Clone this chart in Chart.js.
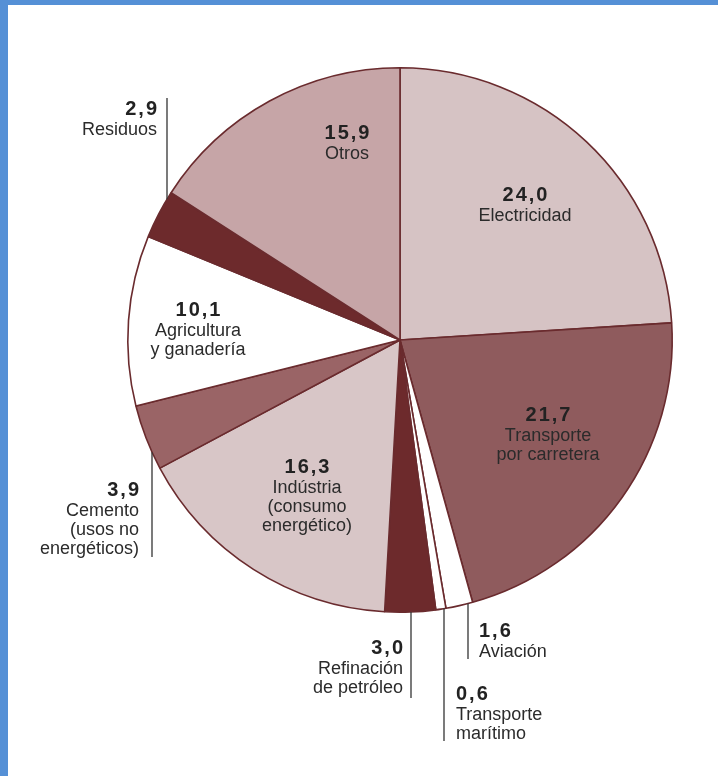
<!DOCTYPE html>
<html>
<head>
<meta charset="utf-8">
<script src="https://cdn.jsdelivr.net/npm/chart.js@4"></script>
<style>
  html, body { margin: 0; padding: 0; background: #fff; }
  #frame {
    position: absolute; left: 0; top: 0; width: 710px; height: 771px;
    border-left: 8px solid #5590d6; border-top: 5px solid #5590d6;
  }
  #pie { position: absolute; left: 0; top: 0; }
</style>
</head>
<body>
<div id="frame"></div>
<canvas id="pie" width="718" height="776"></canvas>
<script>
// data, clockwise from the top
var categories = ["Electricidad", "Transporte por carretera", "Aviación", "Transporte marítimo",
  "Refinación de petróleo", "Indústria (consumo energético)", "Cemento (usos no energéticos)",
  "Agricultura y ganadería", "Residuos", "Otros"];
var values = [24.0, 21.7, 1.6, 0.6, 3.0, 16.3, 3.9, 10.1, 2.9, 15.9];
var valueText = ["24,0", "21,7", "1,6", "0,6", "3,0", "16,3", "3,9", "10,1", "2,9", "15,9"];
var labelLines = [
  ["Electricidad"],
  ["Transporte", "por carretera"],
  ["Aviación"],
  ["Transporte", "marítimo"],
  ["Refinación", "de petróleo"],
  ["Indústria", "(consumo", "energético)"],
  ["Cemento", "(usos no", "energéticos)"],
  ["Agricultura", "y ganadería"],
  ["Residuos"],
  ["Otros"]
];

var colors = ["#d6c3c4", "#8f5b5d", "#ffffff", "#ffffff", "#6d2a2c",
  "#d8c6c7", "#9a6466", "#ffffff", "#6d2a2c", "#c6a5a7"];

// where each label sits, relative to the pie centre
// inside: number centred at dx,dy
// outside: leader line at lineX from the pie edge to lineEnd, text next to it
var placement = [
  { type: "in", dx: 125, dy: -145 },
  { type: "in", dx: 148, dy: 75 },
  { type: "out", lineX: 68, lineEnd: 319, align: "left", tx: 79, ty: 291 },
  { type: "out", lineX: 44, lineEnd: 401, align: "left", tx: 56, ty: 354 },
  { type: "out", lineX: 11, lineEnd: 358, align: "right", tx: 3, ty: 308 },
  { type: "in", dx: -93, dy: 127 },
  { type: "out", lineX: -248, lineEnd: 217, align: "right", tx: -261, ty: 150 },
  { type: "in", dx: -202, dy: -30 },
  { type: "out", lineX: -233, lineEnd: -242, align: "right", tx: -243, ty: -231 },
  { type: "in", dx: -53, dy: -207 }
];

var labelPlugin = {
  id: "pieLabels",
  afterDraw: function(chart) {
    var ctx = chart.ctx;
    var arc = chart.getDatasetMeta(0).data[0];
    var cx = arc.x, cy = arc.y, R = arc.outerRadius;
    ctx.save();
    ctx.textBaseline = "middle";
    for (var i = 0; i < values.length; i++) {
      var p = placement[i];
      var lines = labelLines[i];
      var ax, ay, align;
      if (p.type == "in") {
        ax = cx + p.dx;
        ay = cy + p.dy;
        align = "center";
      } else {
        // leader line from the rim of the pie
        var lx = cx + p.lineX;
        var h = Math.sqrt(Math.max(R * R - p.lineX * p.lineX, 0));
        var edgeY = p.lineEnd > 0 ? cy + h : cy - h;
        ctx.strokeStyle = "#333";
        ctx.lineWidth = 1.3;
        ctx.beginPath();
        ctx.moveTo(lx, edgeY);
        ctx.lineTo(lx, cy + p.lineEnd);
        ctx.stroke();
        ax = cx + p.tx;
        ay = cy + p.ty;
        align = p.align;
      }
      drawText(ctx, valueText[i], ax, ay, align, "bold 20px 'Liberation Sans'", 2, "#222");
      for (var k = 0; k < lines.length; k++) {
        drawText(ctx, lines[k], ax, ay + 21 + k * 19, align, "18px 'Liberation Sans'", 0, "#2b2b2b");
      }
    }
    ctx.restore();
  }
};

function drawText(ctx, txt, x, y, align, font, ls, color) {
  ctx.font = font;
  ctx.letterSpacing = ls + "px";
  ctx.fillStyle = color;
  var w = ctx.measureText(txt).width - ls;
  var sx = x;
  if (align == "center") sx = x - w / 2;
  if (align == "right") sx = x - w;
  ctx.textAlign = "left";
  ctx.fillText(txt, sx, y);
}

new Chart(document.getElementById("pie"), {
  type: "pie",
  data: {
    labels: categories,
    datasets: [{
      data: values,
      backgroundColor: colors,
      borderColor: "#6a2b2e",
      borderWidth: 1.6
    }]
  },
  options: {
    responsive: false,
    animation: false,
    devicePixelRatio: 1,
    layout: { padding: { left: 127, right: 45, top: 67, bottom: 163 } },
    plugins: {
      legend: { display: false },
      tooltip: { enabled: false }
    }
  },
  plugins: [labelPlugin]
});
</script>
</body>
</html>
